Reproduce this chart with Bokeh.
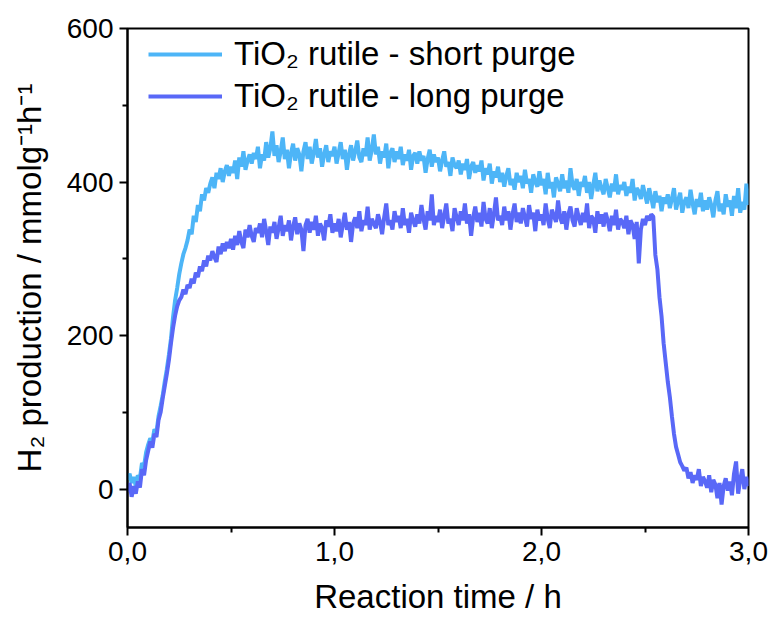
import numpy as np
from bokeh.plotting import figure
from bokeh.models import FixedTicker, Legend, LegendItem, Range1d
from bokeh.embed import file_html
from bokeh.resources import INLINE

# Reaction time grid (h), one reading every 0.01 h
time_h = np.round(np.arange(0, 3.0001, 0.01), 2)

# H2 production (mmol g^-1 h^-1), TiO2 rutile with short purge; rows of 0.1 h
short_purge = [
    12, 20, 8, 16, 4, 18, 14, 34, 30, 48,
    58, 66, 62, 78, 74, 95, 108, 122, 140, 156,
    175, 196, 224, 246, 262, 280, 294, 306, 314, 324,
    338, 332, 356, 348, 370, 362, 384, 376, 392, 386,
    398, 406, 392, 412, 404, 418, 400, 414, 422, 408,
    420, 412, 428, 404, 432, 420, 440, 416, 428, 436,
    424, 438, 430, 446, 418, 436, 428, 452, 432, 444,
    466, 434, 448, 426, 440, 458, 430, 442, 418, 438,
    450, 428, 444, 436, 414, 440, 452, 430, 446, 424,
    438, 456, 432, 444, 420, 436, 448, 426, 440, 434,
    446, 424, 438, 452, 430, 442, 416, 436, 448, 428,
    440, 454, 432, 426, 444, 434, 458, 428, 442, 462,
    436, 446, 424, 440, 432, 450, 418, 438, 444, 426,
    440, 430, 446, 422, 436, 428, 442, 416, 434, 438,
    424, 440, 428, 434, 412, 430, 442, 420, 436, 426,
    432, 414, 428, 440, 420, 426, 408, 432, 422, 418,
    428, 410, 424, 416, 430, 404, 420, 426, 412, 422,
    414, 428, 402, 418, 410, 424, 398, 414, 406, 420,
    400, 412, 394, 408, 418, 396, 404, 390, 412, 400,
    408, 392, 416, 398, 404, 386, 410, 400, 394, 414,
    396, 404, 384, 412, 392, 400, 380, 406, 398, 388,
    410, 392, 402, 386, 418, 396, 390, 404, 382, 400,
    394, 408, 386, 400, 378, 396, 412, 388, 402, 392,
    384, 404, 392, 380, 398, 388, 410, 384, 396, 390,
    400, 382, 394, 386, 404, 376, 392, 388, 378, 396,
    384, 372, 392, 380, 366, 388, 374, 382, 362, 380,
    372, 384, 366, 378, 392, 364, 376, 386, 360, 374,
    380, 366, 390, 372, 358, 378, 368, 386, 362, 376,
    364, 380, 370, 354, 376, 388, 362, 372, 358, 384,
    368, 376, 356, 382, 366, 392, 360, 374, 364, 398,
    370,
]

# H2 production (mmol g^-1 h^-1), TiO2 rutile with long purge; rows of 0.1 h
long_purge = [
    -4, 8, -10, 4, -6, 10, 2, 26, 18, 38,
    50, 62, 54, 72, 68, 90, 100, 118, 134, 150,
    168, 190, 210, 226, 238, 246, 250, 260, 254, 266,
    262, 274, 268, 282, 276, 290, 284, 298, 290, 304,
    298, 310, 302, 296, 316, 306, 320, 310, 322, 314,
    326, 312, 330, 318, 336, 322, 314, 338, 328, 344,
    330, 322, 340, 334, 346, 328, 352, 336, 318, 342,
    334, 348, 326, 340, 356, 330, 344, 336, 350, 324,
    342, 354, 332, 346, 338, 310, 344, 352, 334, 348,
    338, 356, 330, 346, 340, 324, 350, 342, 358, 334,
    346, 336, 352, 328, 344, 360, 338, 348, 322, 346,
    354, 340, 362, 336, 350, 344, 368, 338, 352, 346,
    340, 358, 348, 332, 354, 372, 344, 350, 338, 362,
    348, 356, 340, 366, 344, 352, 334, 360, 350, 342,
    358, 346, 370, 352, 338, 362, 350, 384, 344, 356,
    348, 364, 340, 356, 372, 346, 352, 336, 366, 354,
    344, 362, 350, 372, 346, 358, 330, 354, 368, 348,
    360, 342, 374, 352, 346, 366, 340, 358, 380, 350,
    356, 344, 368, 350, 362, 338, 358, 372, 348, 360,
    346, 366, 354, 342, 370, 352, 360, 336, 364, 350,
    358, 344, 372, 352, 340, 364, 356, 348, 376, 354,
    346, 362, 338, 358, 368, 350, 342, 366, 354, 344,
    360, 348, 372, 340, 356, 352, 334, 362, 346, 358,
    342, 360, 350, 336, 356, 344, 364, 338, 352, 348,
    340, 356, 332, 350, 344, 326, 348, 294, 338, 352,
    344, 356, 350, 358, 355, 305, 286, 250, 225, 190,
    165, 140, 120, 95, 72, 55, 45, 35, 30, 24,
    28, 14, 22, 8, 18, 12, 26, 4, 16, 10,
    2, 18, -4, 12, 6, -12, 8, -20, 4, 14,
    -2, 10, -8, 20, 36, -6, 12, 26, 0, 16,
    4,
]

series_labels = ["TiO\u2082 rutile - short purge", "TiO\u2082 rutile - long purge"]
series_colors = ["#4db5f7", "#5968f7"]

x_ticks = [0, 1, 2, 3]
x_tick_labels = ["0,0", "1,0", "2,0", "3,0"]
y_ticks = [0, 200, 400, 600]

FONT = "Liberation Sans"

p = figure(
    width=770, height=621,
    x_range=Range1d(0, 3), y_range=Range1d(-50, 600),
    output_backend="svg", toolbar_location=None,
    min_border_left=127, min_border_right=22,
    min_border_top=28, min_border_bottom=94,
)

r_short = p.line(time_h, short_purge, line_color=series_colors[0], line_width=4)
r_long = p.line(time_h, long_purge, line_color=series_colors[1], line_width=4)

p.xgrid.visible = False
p.ygrid.visible = False
p.outline_line_color = "black"
p.outline_line_width = 2
p.background_fill_color = "white"
p.border_fill_color = "white"

p.xaxis.ticker = FixedTicker(ticks=x_ticks, minor_ticks=[0.5, 1.5, 2.5])
p.xaxis.major_label_overrides = {t: lab for t, lab in zip(x_ticks, x_tick_labels)}
p.yaxis.ticker = FixedTicker(ticks=y_ticks, minor_ticks=[100, 300, 500])

p.xaxis.axis_label = "Reaction time / h"
p.yaxis.axis_label = "H\u2082 production / mmolg\u207b\u00b9h\u207b\u00b9"

for ax in (p.xaxis[0], p.yaxis[0]):
    ax.axis_line_color = "black"
    ax.axis_line_width = 2
    ax.major_tick_line_color = "black"
    ax.major_tick_line_width = 2
    ax.major_tick_in = 0
    ax.major_tick_out = 8
    ax.minor_tick_line_color = "black"
    ax.minor_tick_line_width = 2
    ax.minor_tick_in = 0
    ax.minor_tick_out = 5
    ax.major_label_text_font = FONT
    ax.major_label_text_font_size = "28px"
    ax.major_label_text_color = "black"
    ax.axis_label_text_font = FONT
    ax.axis_label_text_font_size = "33px"
    ax.axis_label_text_font_style = "normal"
    ax.axis_label_text_color = "black"

p.xaxis.major_label_standoff = 6
p.xaxis.axis_label_standoff = 14
p.yaxis.major_label_standoff = 6
p.yaxis.axis_label_standoff = 16

legend = Legend(
    items=[
        LegendItem(label=series_labels[0], renderers=[r_short]),
        LegendItem(label=series_labels[1], renderers=[r_long]),
    ],
    location=(21, 410),
    border_line_color=None,
    background_fill_alpha=0,
    glyph_width=74,
    glyph_height=42,
    label_height=42,
    label_standoff=12,
    spacing=0,
    padding=0,
    margin=0,
    label_text_font=FONT,
    label_text_font_size="33px",
    label_text_color="black",
)
p.add_layout(legend)

open("out.html", "w").write(file_html(p, INLINE))
